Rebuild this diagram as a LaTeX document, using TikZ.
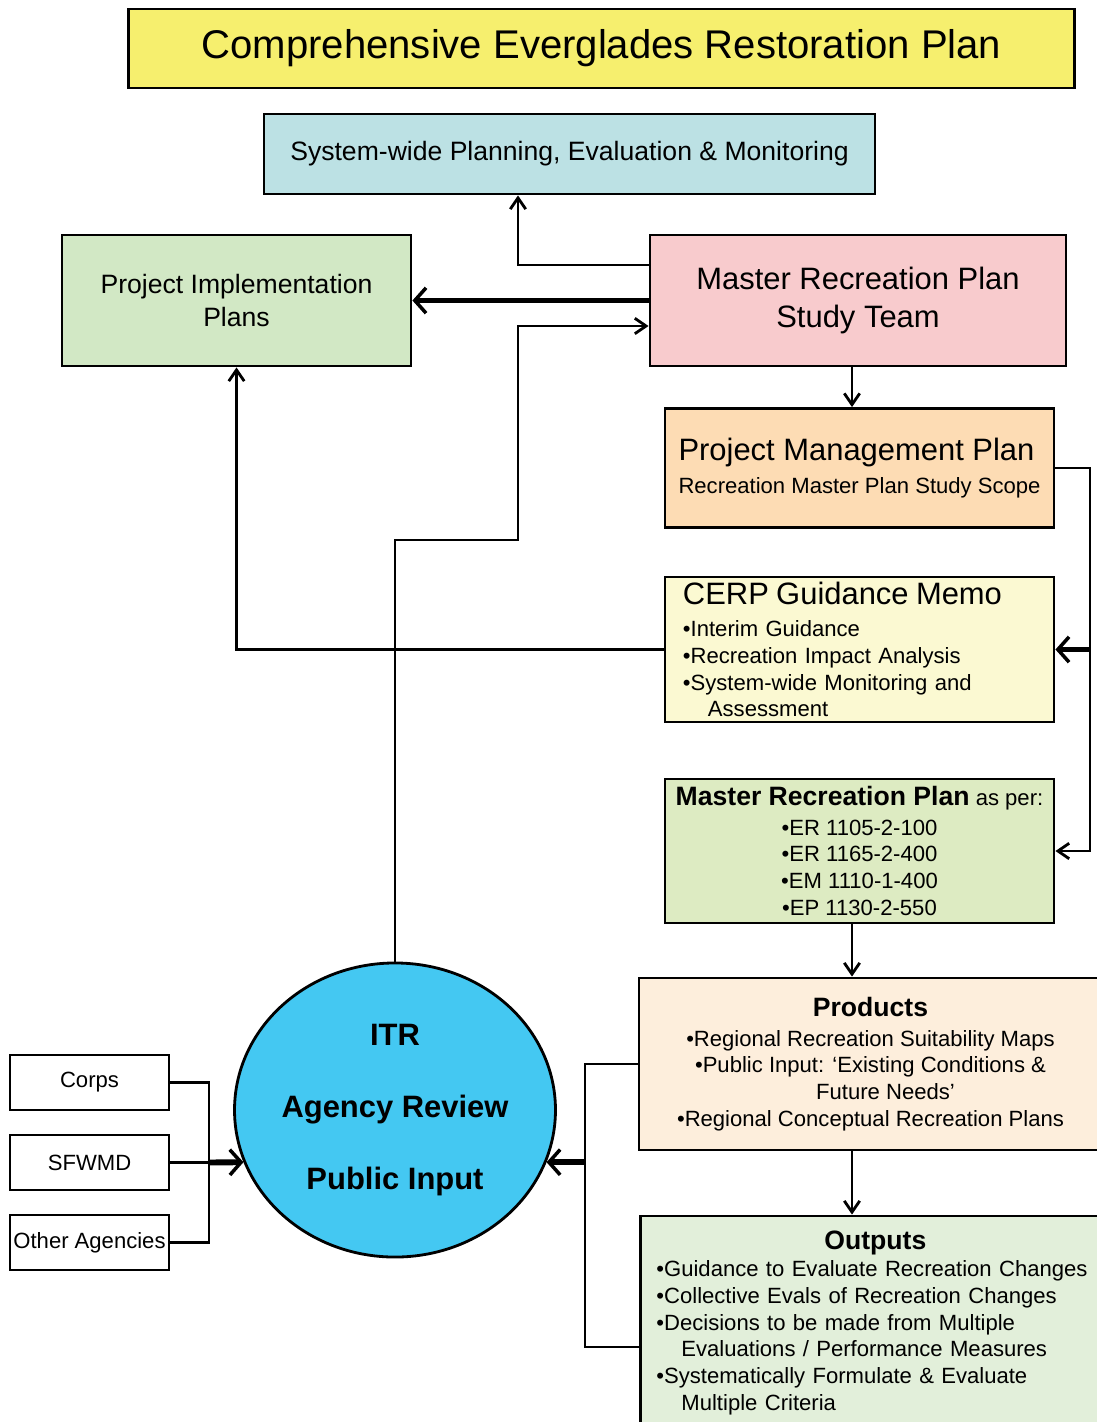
\documentclass[tikz,border=0pt]{standalone}
\usepackage{fontspec}
\setmainfont{Liberation Sans}
\usetikzlibrary{shapes.geometric,arrows.meta}

\definecolor{titleyellow}{RGB}{246,239,110}
\definecolor{planblue}{RGB}{188,225,228}
\definecolor{pipgreen}{RGB}{210,232,197}
\definecolor{teampink}{RGB}{248,203,205}
\definecolor{pmporange}{RGB}{253,220,180}
\definecolor{memoyellow}{RGB}{251,249,210}
\definecolor{mrpgreen}{RGB}{221,235,194}
\definecolor{prodpeach}{RGB}{253,238,220}
\definecolor{outgreen}{RGB}{226,239,218}
\definecolor{itrblue}{RGB}{68,200,242}

\newcommand\fsmall{\fontsize{15.7}{19}\selectfont}
\newcommand\fmed{\fontsize{18.9}{24}\selectfont}
\newcommand\fbig{\fontsize{22}{26.5}\selectfont}
\newcommand\ftitle{\fontsize{28.5}{34}\selectfont}

\tikzset{
  box/.style={draw, line width=2pt, inner sep=0pt},
  conn/.style={line width=2pt},
  fat/.style={line width=4.2pt},
  tip/.style={-{Straight Barb[length=8pt,width=11pt]}},
  fattip/.style={-{Straight Barb[length=8pt,width=18pt,line width=2.5pt]}},
}

\begin{document}
\begin{tikzpicture}[x=0.025cm, y=-0.025cm]
  \fill[white] (0,0) rectangle (1097,1422);
  \useasboundingbox (0,0) rectangle (1097,1422);

  % top row
  \node[box, fill=titleyellow, minimum width=23.625cm, minimum height=1.975cm, font=\ftitle] (title) at (601.5,48.5) {Comprehensive Everglades Restoration Plan};
  \node[box, fill=planblue, minimum width=15.275cm, minimum height=2cm, font=\fmed] (sysw) at (569.5,154) {System-wide Planning, Evaluation \& Monitoring};
  \node[box, fill=pipgreen, minimum width=8.725cm, minimum height=3.275cm, font=\fmed, align=center] (pip) at (236.5,300.5) {Project Implementation\\Plans};
  \node[box, fill=teampink, minimum width=10.4cm, minimum height=3.275cm, font=\fbig, align=center] (team) at (858,300.5) {Master Recreation Plan\\Study Team};

  % right column
  \node[box, fill=pmporange, minimum width=9.725cm, minimum height=2.975cm, font=\fsmall, align=left] (pmp) at (859.5,468) {{\fbig Project Management Plan}\\[5pt]Recreation Master Plan Study Scope};
  \node[box, fill=memoyellow, minimum width=9.725cm, minimum height=3.625cm, font=\fsmall, align=left, text width=8.825cm, inner xsep=0.45cm] (cerp) at (859.5,649.5) {{\fbig CERP Guidance Memo}\\[4pt] •Interim Guidance\\ •Recreation Impact Analysis\\ •System-wide Monitoring and\\ \hspace*{0.625cm}Assessment};
  \node[box, fill=mrpgreen, minimum width=9.725cm, minimum height=3.6cm, font=\fsmall, align=center] (mrp) at (859.5,851) {{\fmed\bfseries Master Recreation Plan} as per:\\[2pt] •ER 1105-2-100\\ •ER 1165-2-400\\ •EM 1110-1-400\\ •EP 1130-2-550};
  \node[box, fill=prodpeach, minimum width=11.575cm, minimum height=4.3cm, font=\fsmall, align=center] (prod) at (870.5,1064) {{\fmed\bfseries Products}\\[2pt] •Regional Recreation Suitability Maps\\ •Public Input: ‘Existing Conditions \&\\ \hspace*{0.75cm}Future Needs’\\ •Regional Conceptual Recreation Plans};
  \node[box, fill=outgreen, anchor=west, minimum height=5.35cm, font=\fsmall, align=left, text width=11.4cm, inner xsep=0.4cm] (outp) at (639,1323) {\hspace*{4.2cm}{\fmed\bfseries Outputs}\\ •Guidance to Evaluate Recreation Changes\\ •Collective Evals of Recreation Changes\\ •Decisions to be made from Multiple\\ \hspace*{0.625cm}Evaluations / Performance Measures\\ •Systematically Formulate \& Evaluate\\ \hspace*{0.625cm}Multiple Criteria};

  % review circle and agencies
  \node[ellipse, draw, line width=2pt, fill=itrblue, minimum width=8cm, minimum height=7.35cm, inner sep=0pt, font=\fontsize{22}{51}\selectfont\bfseries, align=center] (itr) at (395,1110) {ITR\\Agency Review\\Public Input};
  \node[box, fill=white, minimum width=3.975cm, minimum height=1.375cm, font=\fsmall] (corps) at (89.5,1082.5) {Corps};
  \node[box, fill=white, minimum width=3.975cm, minimum height=1.375cm, font=\fsmall] (sfwmd) at (89.5,1162.5) {SFWMD};
  \node[box, fill=white, minimum width=3.975cm, minimum height=1.375cm, font=\fsmall] (other) at (89.5,1242.5) {Other Agencies};

  % bends
  \coordinate (sysbend) at (518,265);
  \coordinate (itrbend) at (518,540);
  \coordinate (teamin) at (518,326);
  \coordinate (spine) at (852,0);
  \coordinate (rrail) at (1090,0);
  \coordinate (lrail) at (585,1347);
  \coordinate (agrail) at (209,0);

  \draw[conn, tip] (team.west |- sysbend) -| (sysw.south -| sysbend);
  \draw[fat, fattip] (team.west) -- (pip.east);
  \draw[conn, tip] (itr.north) |- (itrbend) -- (teamin) -- (team.west |- teamin);
  \draw[conn, tip] (team.south -| spine) -- (pmp.north -| spine);
  \draw[conn, tip] (pmp.east) -| (rrail |- mrp.east) -- (mrp.east);
  \draw[fat, fattip] (rrail |- cerp.east) -- (cerp.east);
  \draw[conn, tip] (cerp.west) -| (pip.south);
  \draw[conn, tip] (mrp.south -| spine) -- (prod.north -| spine);
  \draw[conn, tip] (prod.south -| spine) -- (outp.north -| spine);
  \draw[conn] (prod.west) -| (lrail) -- (outp.west |- lrail);
  \draw[fat, fattip] (lrail |- itr.-19) -- (itr.-19);
  \draw[conn] (corps.east) -| (agrail |- other.east) -- (other.east);
  \draw[conn] (sfwmd.east) -- (agrail |- sfwmd.east);
  \draw[fat, fattip] (agrail |- sfwmd.east) -- (itr.199);
\end{tikzpicture}
\end{document}
